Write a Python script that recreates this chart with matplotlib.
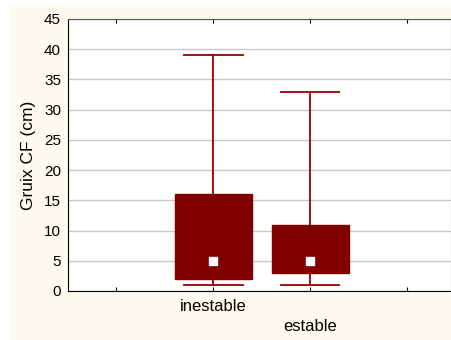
import matplotlib.pyplot as plt
from matplotlib.patches import Rectangle

plt.rcParams['font.family'] = ['Liberation Sans', 'DejaVu Sans']

categories = ['inestable', 'estable']
mins = [1, 1]
q1s = [2, 3]
medians = [5, 5]
q3s = [16, 11]
maxs = [39, 33]

dark_red = '#800000'

fig = plt.figure(figsize=(4.52, 3.40), dpi=100)
fig.patch.set_facecolor('white')
# fons crema
fig.patches.append(Rectangle((10 / 452, 0), 1, 1 - 5 / 340, transform=fig.transFigure,
                             facecolor='#fffaf0', edgecolor='none', zorder=-10))

ax = fig.add_axes([68 / 452, 1 - 291 / 340, (451 - 68) / 452, (291 - 19) / 340])
ax.set_facecolor('white')

stats = []
for i, cat in enumerate(categories):
    stats.append({'label': cat, 'whislo': mins[i], 'q1': q1s[i], 'med': medians[i],
                  'q3': q3s[i], 'whishi': maxs[i]})

positions = list(range(1, len(categories) + 1))
ax.bxp(stats, positions=positions, widths=0.79, capwidths=0.6, showfliers=False,
       patch_artist=True,
       boxprops=dict(facecolor=dark_red, edgecolor=dark_red, linewidth=1),
       whiskerprops=dict(color='#990000', linewidth=1.3),
       capprops=dict(color='#990000', linewidth=1.3),
       medianprops=dict(linewidth=0),
       zorder=3)
ax.plot(positions, medians, linestyle='none', marker='s', markersize=5.5,
        markerfacecolor='white', markeredgecolor='white', zorder=4)

ax.set_xlim(-0.5, 3.45)
ax.set_ylim(0, 45)
ax.set_yticks(range(0, 46, 5))
ax.set_xticks([0, 1, 2, 3])
ax.set_xticklabels(['', 'inestable', '\nestable', ''], linespacing=1.4)
ax.tick_params(axis='x', direction='in', length=3, top=True, labelsize=12, pad=6)
ax.tick_params(axis='y', direction='in', length=0, labelsize=11, pad=5)
ax.grid(axis='y', color='#c8c8c8', linewidth=1)
ax.set_axisbelow(True)

for side in ['left', 'bottom']:
    ax.spines[side].set_color('black')
ax.spines['top'].set_color('#555555')
ax.spines['right'].set_color('#555555')

ax.set_ylabel('Gruix CF (cm)', fontsize=12.5, labelpad=6)

plt.savefig('out.png', dpi=100, facecolor=fig.get_facecolor())
